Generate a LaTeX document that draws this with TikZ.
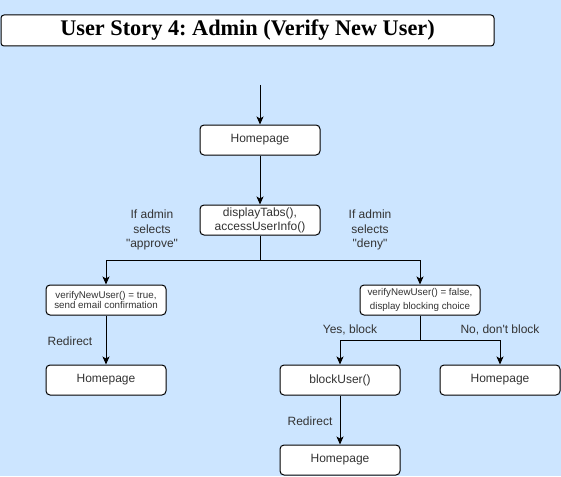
\documentclass[tikz,border=0pt]{standalone}
\usepackage{fontspec}
\setmainfont{Liberation Sans}[Ligatures=TeXOff]
\newfontfamily\titlefont{Liberation Serif}
\usetikzlibrary{arrows.meta}
\definecolor{sky}{HTML}{CCE5FF}
\definecolor{txt}{HTML}{333333}
\frenchspacing

\begin{document}
\begin{tikzpicture}[x=1pt,y=-1pt,line width=1pt,
 box/.style={draw=black,rounded corners=4pt,fill=white,minimum width=120pt,
 minimum height=30pt,inner sep=2pt,align=center,text=txt,font=\fontsize{12}{14}\selectfont},
 smallbox/.style={box,font=\fontsize{9.8}{10.5}\selectfont},
 lbl/.style={align=center,text=txt,font=\fontsize{12}{14.5}\selectfont},
 arr/.style={-{Stealth[length=8pt,width=7pt,inset=2pt]},draw=black}]
\fill[sky] (0,0) rectangle (561,476);
\node[draw=black,rounded corners=3pt,fill=white,minimum width=493pt,minimum height=31pt,
 font=\titlefont\bfseries\fontsize{22.3}{26}\selectfont] (title) at (247.5,30.5) {User Story 4: Admin (Verify New User)};
\coordinate (start) at (260,85);
\node[box] (home1) at (260,140) {Homepage};
\node[box] (tabs) at (260,220) {displayTabs(),\\accessUserInfo()};
\coordinate (fork) at (260,260);
\node[smallbox] (approve) at (106,300) {verifyNewUser() = true,\\send email confirmation};
\node[smallbox,font=\fontsize{9.8}{14.4}\selectfont] (deny) at (420,300) {verifyNewUser() = false,\\display blocking choice};
\coordinate (choice) at (420,340);
\node[box] (home2) at (106,380) {Homepage};
\node[box] (block) at (340,380) {blockUser()};
\node[box] (home3) at (500,380) {Homepage};
\node[box] (home4) at (340,460) {Homepage};
\node[lbl] (ifyes) at (152,230) {If admin\\selects\\"approve"};
\node[lbl] (ifno) at (370,230) {If admin\\selects\\"deny"};
\node[lbl] (redir1) at (70,341) {Redirect};
\node[lbl] (redir2) at (310,421) {Redirect};
\node[lbl] (yes) at (350,330) {Yes, block};
\node[lbl] (nope) at (500,330) {No, don't block};
\draw[arr] (start) -- (home1);
\draw[arr] (home1) -- (tabs);
\draw[arr] (tabs) -- (fork) -| (approve);
\draw[arr] (fork) -| (deny);
\draw[arr] (approve) -- (home2);
\draw[arr] (deny) -- (choice) -| (block);
\draw[arr] (choice) -| (home3);
\draw[arr] (block) -- (home4);
\end{tikzpicture}
\end{document}
